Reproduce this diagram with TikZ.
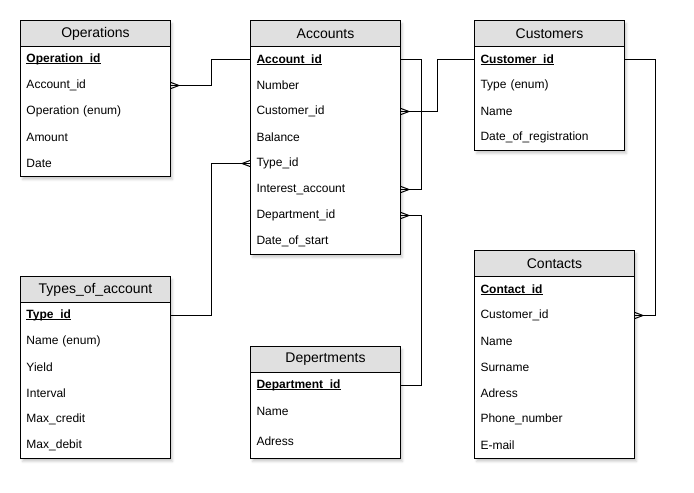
\documentclass[tikz,border=0pt]{standalone}
\usepackage{fontspec}
\setmainfont{Liberation Sans}
\usetikzlibrary{arrows.meta,shadows.blur}
\definecolor{headgray}{HTML}{E0E0E0}
\newlength\pklen
\newcommand{\pk}[1]{\settowidth{\pklen}{\textbf{#1}}\textbf{#1}\hspace{-\pklen}\rule[-1.6pt]{\pklen}{0.8pt}}
\pgfdeclarearrow{
  name = Crow,
  setup code = {
    \pgfarrowssettipend{0pt}
    \pgfarrowssetlineend{0pt}
    \pgfarrowssetbackend{-8pt}
  },
  drawing code = {
    \pgfpathmoveto{\pgfqpoint{0pt}{3pt}}
    \pgfpathlineto{\pgfqpoint{-8pt}{0pt}}
    \pgfpathlineto{\pgfqpoint{0pt}{-3pt}}
    \pgfusepathqstroke
  }
}
\begin{document}
\begin{tikzpicture}[x=1pt,y=-1pt,line width=1pt]
	\tikzstyle{every node}=[font=\fontsize{12}{14}\selectfont]
	\tikzstyle{tbl}=[draw,fill=white,anchor=north west,inner sep=0pt,blur shadow={shadow xshift=2pt,shadow yshift=-3pt,shadow opacity=20,shadow blur steps=4}]
	\tikzstyle{head}=[draw,fill=headgray,anchor=north west,inner sep=0pt,minimum height=26pt,font=\fontsize{14}{16}\selectfont]
	\tikzstyle{row}=[anchor=north west,inner xsep=6pt,inner ysep=0pt,minimum height=26pt,align=left]
	\useasboundingbox (0,0) rectangle (694,493);
	% Operations
	\node[tbl,minimum width=150pt,minimum height=156pt] (op) at (20,20) {};
	\node[head,minimum width=150pt] (op-h) at (op.north west) {Operations};
	\foreach \t [count=\i] in {\pk{Operation\_id},Account\_id,Operation (enum),Amount,Date}
		\node[row,text width=138pt] (op-\i) at (20,{20+26*\i}) {\t};
	% Accounts
	\node[tbl,minimum width=150pt,minimum height=234pt] (acc) at (250,20) {};
	\node[head,minimum width=150pt] (acc-h) at (acc.north west) {Accounts};
	\foreach \t [count=\i] in {\pk{Account\_id},Number,Customer\_id,Balance,Type\_id,Interest\_account,Department\_id,Date\_of\_start}
		\node[row,text width=138pt] (acc-\i) at (250,{20+26*\i}) {\t};
	% Customers
	\node[tbl,minimum width=150pt,minimum height=130pt] (cus) at (474,20) {};
	\node[head,minimum width=150pt] (cus-h) at (cus.north west) {Customers};
	\foreach \t [count=\i] in {\pk{Customer\_id},Type (enum),Name,Date\_of\_registration}
		\node[row,text width=138pt] (cus-\i) at (474,{20+26*\i}) {\t};
	% Types_of_account
	\node[tbl,minimum width=150pt,minimum height=182pt] (typ) at (20,276) {};
	\node[head,minimum width=150pt] (typ-h) at (typ.north west) {Types\_of\_account};
	\foreach \t [count=\i] in {\pk{Type\_id},Name (enum),Yield,Interval,Max\_credit,Max\_debit}
		\node[row,text width=138pt] (typ-\i) at (20,{276+26*\i}) {\t};
	% Deptements
	\node[tbl,minimum width=150pt,minimum height=112pt] (dep) at (250,346) {};
	\node[head,minimum width=150pt] (dep-h) at (dep.north west) {Depertments};
	\foreach \t [count=\i] in {\pk{Department\_id},Name}
		\node[row,text width=138pt] (dep-\i) at (250,{346+26*\i}) {\t};
	\node[row,text width=138pt,minimum height=34pt] (dep-3) at (250,424) {Adress};
	% Contacts
	\node[tbl,minimum width=160pt,minimum height=208pt] (con) at (474,250) {};
	\node[head,minimum width=160pt] (con-h) at (con.north west) {Contacts};
	\foreach \t [count=\i] in {\pk{Contact\_id},Customer\_id,Name,Surname,Adress,Phone\_number,E-mail}
		\node[row,text width=148pt] (con-\i) at (474,{250+26*\i}) {\t};
	% links
	\draw[{Crow}-] (op-2.east) -- ++(40,0) |- (acc-1.west);
	\draw[-{Crow}] (acc-1.east) -- ++(20,0) |- (acc-6.east);
	\draw[-{Crow}] (cus-1.west) -- ++(-37,0) |- (acc-3.east);
	\draw[-{Crow}] (typ-1.east) -- ++(40,0) |- (acc-5.west);
	\draw[-{Crow}] (dep-1.east) -- ++(20,0) |- (acc-7.east);
	\draw[-{Crow}] (cus-1.east) -- ++(30,0) |- (con-2.east);
\end{tikzpicture}
\end{document}
